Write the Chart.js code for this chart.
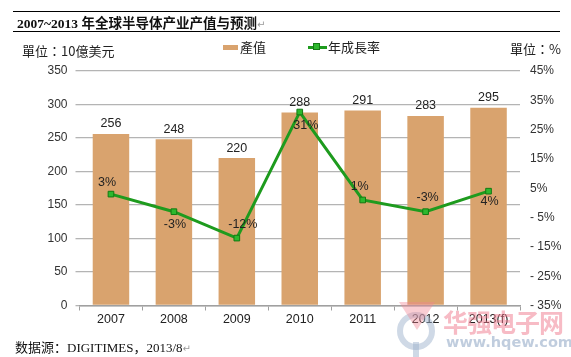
<!DOCTYPE html>
<html>
<head>
<meta charset="utf-8">
<script src="https://cdn.jsdelivr.net/npm/chart.js@4.4.1/dist/chart.umd.min.js"></script>
<style>
  html,body{margin:0;padding:0;background:#fff;}
  #wrap{position:relative;width:571px;height:357px;overflow:hidden;background:#fff;}
  canvas{position:absolute;left:0;top:0;}
  .t{position:absolute;white-space:nowrap;color:#111;}
  .hl{position:absolute;left:13px;width:547px;height:0;border-top:1.5px solid #000;}
  .ret{color:#999;font-family:"DejaVu Sans";font-size:10px;font-weight:normal;}
</style>
</head>
<body>
<div id="wrap">
  <canvas id="c" width="571" height="357"></canvas>
  <div class="hl" style="top:11px"></div>
  <div class="hl" style="top:31px"></div>
  <div class="t" style="left:17px;top:13px;font-size:13.5px;font-weight:bold;font-family:'Liberation Serif','Noto Sans CJK SC';line-height:18px;">2007~2013 <span style="font-family:'Noto Sans CJK SC'">年全球半导体产业产值与预测</span><span class="ret">↵</span></div>
  <div class="t" style="left:22px;top:42px;font-size:13px;font-family:'Noto Sans CJK TC';line-height:18px;color:#222;">單位：10億美元</div>
  <div class="t" style="left:510px;top:40px;font-size:13px;font-family:'Noto Sans CJK TC';line-height:18px;color:#222;">單位：%</div>
  <div style="position:absolute;left:223px;top:45px;width:15px;height:5px;background:#D9A36E;"></div>
  <div class="t" style="left:240px;top:38px;font-size:13px;font-family:'Noto Sans CJK TC';line-height:18px;color:#222;">產值</div>
  <div style="position:absolute;left:308px;top:45.5px;width:19px;height:3px;background:#1E9B1E;"></div>
  <div style="position:absolute;left:313px;top:43px;width:7px;height:7px;background:#2DB82D;border:1px solid #137A13;box-sizing:border-box;"></div>
  <div class="t" style="left:328px;top:38px;font-size:13px;font-family:'Noto Sans CJK TC';line-height:18px;color:#222;">年成長率</div>
  <div class="t" style="left:15px;top:338px;font-size:13px;font-family:'Liberation Serif','Noto Sans CJK SC';line-height:18px;color:#111;"><span style="font-family:'Noto Sans CJK SC'">数据源：</span>DIGITIMES<span style="font-family:'Noto Sans CJK SC'">，</span>2013/8<span class="ret">↵</span></div>
  <!-- watermark -->
  <div style="position:absolute;left:397px;top:312px;width:26px;height:26px;border:6px solid rgba(160,180,205,0.5);border-radius:50%;"></div>
  <div style="position:absolute;left:413px;top:342px;width:6px;height:15px;background:rgba(160,180,205,0.5);"></div>
  <div style="position:absolute;left:399px;top:302px;width:0;height:0;border-left:18px solid transparent;border-right:18px solid transparent;border-top:28px solid rgba(240,130,145,0.4);"></div>
  <div class="t" style="left:443px;top:306px;font-size:25px;font-weight:bold;font-family:'Noto Sans CJK SC';line-height:30px;color:rgba(240,120,140,0.5);letter-spacing:-1px;">华强电子网</div>
  <div class="t" style="left:446px;top:333px;font-size:14.5px;font-weight:bold;font-family:'DejaVu Sans';line-height:18px;color:rgba(150,172,200,0.6);">www.hqew.com</div>
</div>
<script>
const categories = ['2007','2008','2009','2010','2011','2012','2013(f)'];
const outputValues = [256, 248, 220, 288, 291, 283, 295];
const growthRates = [3, -3, -12, 31, 1, -3, 4];
const leftTicks = {min: 0, max: 350, step: 50};
const rightTicks = {min: -35, max: 45, step: 10};

// label offsets (dx, dy) relative to each line point
const growthLabelOffsets = [[-4,-12],[1,13],[6,-14],[6,14],[-3,-13],[2,-14],[1,10]];

const labelPlugin = {
  id: 'valueLabels',
  afterDatasetsDraw(chart) {
    const ctx = chart.ctx;
    ctx.save();
    ctx.font = '12.5px "Liberation Sans", Arial';
    ctx.fillStyle = '#222';
    ctx.textAlign = 'center';
    ctx.textBaseline = 'middle';
    const barMeta = chart.getDatasetMeta(0);
    barMeta.data.forEach((el, i) => {
      ctx.fillText(String(outputValues[i]), el.x, el.y - 10);
    });
    const lineMeta = chart.getDatasetMeta(1);
    lineMeta.data.forEach((el, i) => {
      const o = growthLabelOffsets[i];
      ctx.fillText(growthRates[i] + '%', el.x + o[0], el.y + o[1]);
    });
    ctx.restore();
  }
};

const tickFont = {family: '"Liberation Sans", Arial', size: 12};

new Chart(document.getElementById('c'), {
  type: 'bar',
  data: {
    labels: categories,
    datasets: [
      {
        type: 'bar', label: '產值', data: outputValues, yAxisID: 'y',
        backgroundColor: '#D9A36E', borderWidth: 0,
        barPercentage: 0.58, categoryPercentage: 1.0, order: 2
      },
      {
        type: 'line', label: '年成長率', data: growthRates, yAxisID: 'y1',
        borderColor: '#1E9B1E', borderWidth: 3, tension: 0,
        pointStyle: 'rect', pointRadius: 4, pointBackgroundColor: '#2DB82D',
        pointBorderColor: '#137A13', pointBorderWidth: 1, order: 1
      }
    ]
  },
  options: {
    responsive: false, animation: false,
    devicePixelRatio: 1,
    layout: {padding: {top: 71, left: 0, right: 0, bottom: 21.5}},
    plugins: {legend: {display: false}, title: {display: false}, tooltip: {enabled: false}},
    scales: {
      x: {
        offset: true,
        grid: {display: true, drawOnChartArea: false, offset: true, tickLength: 5, color: '#A0A0A0'},
        border: {display: true, color: '#A0A0A0', width: 1.5},
        ticks: {font: {family: '"Liberation Sans", Arial', size: 12.5}, color: '#222', padding: 2},
        afterFit(s) { s.height = 30; }
      },
      y: {
        position: 'left', min: leftTicks.min, max: leftTicks.max,
        ticks: {stepSize: leftTicks.step, font: tickFont, color: '#333', padding: 8},
        grid: {color: '#B4B4B4', lineWidth: 1.3, tickLength: 4},
        border: {display: false},
        afterFit(s) { s.width = 79.5; }
      },
      y1: {
        position: 'right', min: rightTicks.min, max: rightTicks.max,
        ticks: {stepSize: rightTicks.step, font: tickFont, color: '#333', padding: 10,
          callback: v => (v < 0 ? '- ' + Math.abs(v) : v) + '%'},
        grid: {display: false, drawTicks: false},
        border: {display: false},
        afterFit(s) { s.width = 51; }
      }
    }
  },
  plugins: [labelPlugin]
});
</script>
</body>
</html>
